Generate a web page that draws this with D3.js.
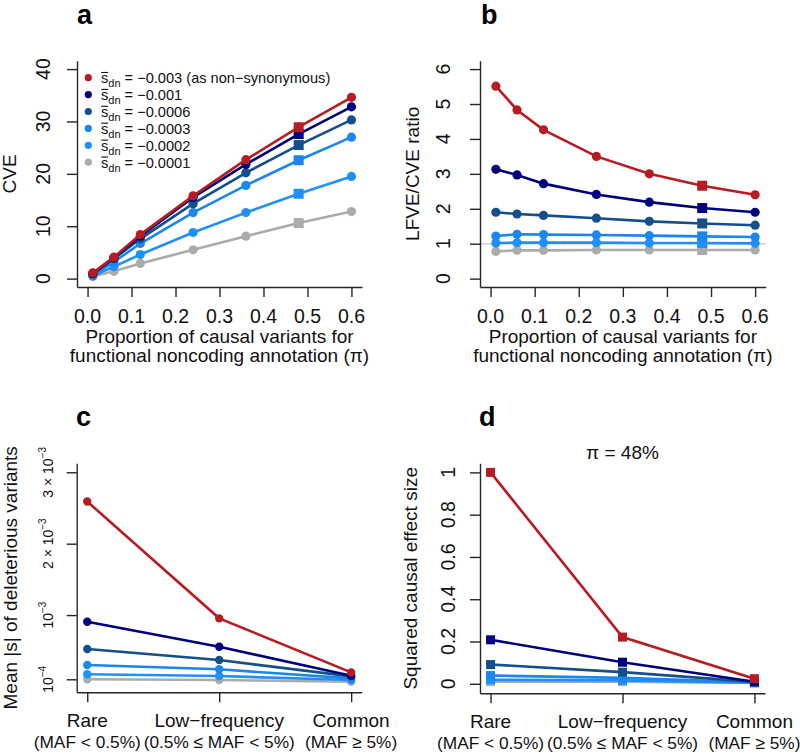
<!DOCTYPE html>
<html><head><meta charset="utf-8">
<script src="https://cdn.jsdelivr.net/npm/d3@7"></script>
<style>body{margin:0;background:#fff}</style>
</head><body>
<script>
// ---------- data ----------
const piValues = [0.012, 0.06, 0.12, 0.24, 0.36, 0.48, 0.6];
const piTicks = [0, 0.1, 0.2, 0.3, 0.4, 0.5, 0.6];
const piTickLabels = ["0.0","0.1","0.2","0.3","0.4","0.5","0.6"];
const seriesLabels = ["−0.003 (as non−synonymous)", "−0.001", "−0.0006", "−0.0003", "−0.0002", "−0.0001"];
const cveValues = [
  [1.1, 4.1, 8.4, 15.8, 22.7, 28.9, 34.6],
  [1.0, 4.0, 8.1, 15.5, 21.8, 27.6, 32.8],
  [0.9, 3.8, 7.6, 14.3, 20.2, 25.5, 30.3],
  [0.6, 3.2, 6.7, 12.6, 17.8, 22.6, 27.0],
  [0.5, 2.3, 4.6, 8.8, 12.6, 16.2, 19.5],
  [0.4, 1.4, 2.9, 5.5, 8.1, 10.6, 12.8]
];
const cveTicks = [0, 10, 20, 30, 40];
const ratioValues = [
  [5.51, 4.83, 4.26, 3.50, 3.00, 2.66, 2.40],
  [3.13, 2.97, 2.72, 2.41, 2.19, 2.02, 1.90],
  [1.90, 1.85, 1.81, 1.73, 1.64, 1.58, 1.53],
  [1.22, 1.27, 1.26, 1.25, 1.23, 1.21, 1.19],
  [1.02, 1.03, 1.03, 1.03, 1.02, 1.02, 1.01],
  [0.78, 0.81, 0.81, 0.82, 0.82, 0.82, 0.82]
];
const ratioTicks = [0, 1, 2, 3, 4, 5, 6];
const ratioReference = 1;
const freqCategories = ["Rare", "Low−frequency", "Common"];
const freqRanges = ["(MAF < 0.5%)", "(0.5% ≤ MAF < 5%)", "(MAF ≥ 5%)"];
const meanSValues = [
  [2.59e-3, 0.954e-3, 0.197e-3],
  [0.906e-3, 0.556e-3, 0.150e-3],
  [0.524e-3, 0.370e-3, 0.141e-3],
  [0.300e-3, 0.240e-3, 0.113e-3],
  [0.170e-3, 0.146e-3, 0.090e-3],
  [0.100e-3, 0.090e-3, 0.066e-3]
];
const meanSTicks = [1e-4, 1e-3, 2e-3, 3e-3];
const meanSTickLabels = [["", "10", "−4"], ["", "10", "−3"], ["2 × ", "10", "−3"], ["3 × ", "10", "−3"]];
const sqEffectValues = [
  [1.0, 0.221, 0.024],
  [0.208, 0.102, 0.010],
  [0.091, 0.055, 0.009],
  [0.039, 0.028, 0.007],
  [0.019, 0.016, 0.005],
  [0.010, 0.010, 0.004]
];
const sqTicks = [0, 0.2, 0.4, 0.6, 0.8, 1];
const sqTickLabels = ["0", "0.2", "0.4", "0.6", "0.8", "1"];
const squarePi = 0.48;
const panelDTitle = "π = 48%";

// ---------- style ----------
const seriesColors = ["#B71C22", "#00007F", "#124F8C", "#1C86EE", "#1E90FF", "#ABABAB"];
const FONT = "'Liberation Sans', Arial, Helvetica, sans-serif";
const AX = "#262626";

const svg = d3.select("body").append("svg")
  .attr("width", 800).attr("height", 755)
  .style("font-family", FONT);

function frame(g, x, y, xTicks, yTicks) {
  const ax = g.append("g").attr("transform", `translate(0,${y.range()[0]})`)
    .call(d3.axisBottom(x).tickValues(xTicks).tickSize(10).tickSizeOuter(0).tickFormat(""));
  const ay = g.append("g").attr("transform", `translate(${x.range()[0]},0)`)
    .call(d3.axisLeft(y).tickValues(yTicks).tickSize(10).tickSizeOuter(0).tickFormat(""));
  [ax, ay].forEach(a => {
    a.select(".domain").attr("stroke", AX).attr("stroke-width", 1.4);
    a.selectAll(".tick line").attr("stroke", AX).attr("stroke-width", 1.4);
  });
}

function xLabels(g, x, y, ticks, labels, dy, size) {
  g.selectAll(null).data(ticks).enter().append("text")
    .attr("x", d => x(d)).attr("y", y.range()[0] + dy)
    .attr("text-anchor", "middle").attr("font-size", size).attr("fill", "#111")
    .text((d, i) => labels[i]);
}

function yLabels(g, x, y, ticks, labels, off, size) {
  g.selectAll(null).data(ticks).enter().append("text")
    .attr("transform", d => `translate(${x.range()[0] - off},${y(d)}) rotate(-90)`)
    .attr("text-anchor", "middle").attr("font-size", size).attr("fill", "#111")
    .text((d, i) => labels[i]);
}

function yTitle(g, x, y, text, off) {
  g.append("text")
    .attr("transform", `translate(${x.range()[0] - off},${(y.range()[0] + y.range()[1]) / 2}) rotate(-90)`)
    .attr("text-anchor", "middle").attr("font-size", 19).attr("fill", "#111").text(text);
}

function panelLetter(x, y, t) {
  svg.append("text").attr("x", x).attr("y", y).attr("font-size", 27)
    .attr("font-weight", "bold").attr("fill", "#000").text(t);
}

function series(g, x, y, xs, rows, shapeFn, r, sq) {
  for (let i = rows.length - 1; i >= 0; i--) {
    const pts = rows[i].map((v, j) => [xs[j], v]);
    g.append("path").datum(pts)
      .attr("d", d3.line().x(d => x(d[0])).y(d => y(d[1])))
      .attr("fill", "none").attr("stroke", seriesColors[i]).attr("stroke-width", 2.6);
    pts.forEach((p, j) => {
      if (shapeFn(p[0], j)) {
        g.append("rect").attr("x", x(p[0]) - sq / 2).attr("y", y(p[1]) - sq / 2)
          .attr("width", sq).attr("height", sq).attr("fill", seriesColors[i]);
      } else {
        g.append("circle").attr("cx", x(p[0])).attr("cy", y(p[1])).attr("r", r)
          .attr("fill", seriesColors[i]);
      }
    });
  }
}

function xTitle(g, x, y, lines) {
  const cx = (x.range()[0] + x.range()[1]) / 2;
  lines.forEach((t, i) => {
    g.append("text").attr("x", cx).attr("y", y.range()[0] + 56 + i * 19)
      .attr("text-anchor", "middle").attr("font-size", 19).attr("fill", "#111").text(t);
  });
}

const piTitle = ["Proportion of causal variants for", "functional noncoding annotation (π)"];

// ---------- panel a ----------
{
  const g = svg.append("g");
  const x = d3.scaleLinear().domain([-0.024, 0.624]).range([77, 362]);
  const y = d3.scaleLinear().domain([-1.6, 41.6]).range([287, 60.7]);
  frame(g, x, y, piTicks, cveTicks);
  xLabels(g, x, y, piTicks, piTickLabels, 36, 19.5);
  yLabels(g, x, y, cveTicks, cveTicks.map(String), 27, 19.5);
  yTitle(g, x, y, "CVE", 61);
  xTitle(g, x, y, piTitle);
  series(g, x, y, piValues, cveValues, v => v === squarePi, 4.6, 10);
  // legend
  const lg = g.append("g");
  seriesLabels.forEach((lab, i) => {
    const cy = 77.7 + i * 16.9;
    lg.append("circle").attr("cx", 88.3).attr("cy", cy).attr("r", 3.6).attr("fill", seriesColors[i]);
    const t = lg.append("text").attr("x", 101).attr("y", cy + 5.5).attr("font-size", 14.6).attr("fill", "#111");
    t.append("tspan").text("s");
    t.append("tspan").attr("font-size", 11).attr("dy", 4).text("dn");
    t.append("tspan").attr("dy", -4).text(" = " + lab);
    const sw = t.node().getSubStringLength(0, 1);
    lg.append("line").attr("x1", 101.3).attr("x2", 101 + sw - 0.3)
      .attr("y1", cy - 5.2).attr("y2", cy - 5.2)
      .attr("stroke", "#111").attr("stroke-width", 1.1);
  });
  panelLetter(77, 24, "a");
}

// ---------- panel b ----------
{
  const g = svg.append("g");
  const x = d3.scaleLinear().domain([-0.024, 0.624]).range([480, 765.7]);
  const y = d3.scaleLinear().domain([-0.24, 6.24]).range([287, 60.7]);
  g.append("line").attr("x1", x.range()[0]).attr("x2", x.range()[1])
    .attr("y1", y(ratioReference)).attr("y2", y(ratioReference))
    .attr("stroke", "#cfcfcf").attr("stroke-width", 1.5);
  frame(g, x, y, piTicks, ratioTicks);
  xLabels(g, x, y, piTicks, piTickLabels, 36, 19.5);
  yLabels(g, x, y, ratioTicks, ratioTicks.map(String), 30, 19.5);
  yTitle(g, x, y, "LFVE/CVE ratio", 61);
  xTitle(g, x, y, piTitle);
  series(g, x, y, piValues, ratioValues, v => v === squarePi, 4.6, 10);
  panelLetter(481, 24, "b");
}

// ---------- panel c ----------
{
  const g = svg.append("g");
  const x = d3.scaleLinear().domain([0.92, 3.08]).range([76.7, 361.7]);
  const y = d3.scaleLinear().domain([-0.000082, 0.003126]).range([692.3, 463.3]);
  frame(g, x, y, [1, 2, 3], meanSTicks);
  xLabels(g, x, y, [1, 2, 3], freqCategories, 35, 19);
  xLabels(g, x, y, [1, 2, 3], freqRanges, 56, 17.3);
  meanSTicks.forEach((v, i) => {
    const lab = meanSTickLabels[i];
    const t = g.append("text")
      .attr("transform", `translate(${x.range()[0] - 24},${y(v)}) rotate(-90)`)
      .attr("text-anchor", "middle").attr("font-size", 14).attr("fill", "#111");
    t.append("tspan").text(lab[0] + lab[1]);
    t.append("tspan").attr("font-size", 10).attr("dy", -7).text(lab[2]);
  });
  yTitle(g, x, y, "Mean |s| of deleterious variants", 60);
  series(g, x, y, [1, 2, 3], meanSValues, () => false, 4.2, 9);
  panelLetter(76, 426, "c");
}

// ---------- panel d ----------
{
  const g = svg.append("g");
  const x = d3.scaleLinear().domain([0.92, 3.08]).range([480, 765]);
  const y = d3.scaleLinear().domain([-0.045, 1.043]).range([693.3, 463.3]);
  frame(g, x, y, [1, 2, 3], sqTicks);
  xLabels(g, x, y, [1, 2, 3], freqCategories, 35, 19);
  xLabels(g, x, y, [1, 2, 3], freqRanges, 56, 17.3);
  yLabels(g, x, y, sqTicks, sqTickLabels, 25, 19.5);
  yTitle(g, x, y, "Squared causal effect size", 63);
  g.append("text").attr("x", (x.range()[0] + x.range()[1]) / 2).attr("y", 459)
    .attr("text-anchor", "middle").attr("font-size", 19).attr("fill", "#111").text(panelDTitle);
  series(g, x, y, [1, 2, 3], sqEffectValues, () => true, 4, 9);
  panelLetter(479, 426, "d");
}
</script>
</body></html>
